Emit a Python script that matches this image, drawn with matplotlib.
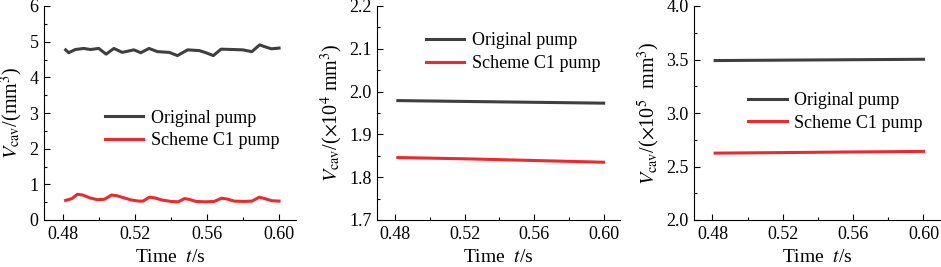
import matplotlib
matplotlib.use("Agg")
import matplotlib.pyplot as plt
from matplotlib.ticker import MultipleLocator, FormatStrFormatter

plt.rcParams['font.family'] = ['Liberation Serif', 'DejaVu Serif']
plt.rcParams['mathtext.fontset'] = 'stix'
plt.rcParams['font.size'] = 13

# panel 1 data (mm^3)
t_orig1 = [0.4815, 0.4832, 0.4869, 0.4915, 0.4953, 0.4999, 0.5040, 0.5083, 0.5129,
           0.5194, 0.5232, 0.5278, 0.5325, 0.5390, 0.5436, 0.5492, 0.5557, 0.5594,
           0.5635, 0.5678, 0.5743, 0.5799, 0.5849, 0.5892, 0.5920, 0.5957, 0.6000]
v_orig1 = [4.77, 4.69, 4.78, 4.81, 4.78, 4.81, 4.65, 4.81, 4.70,
           4.77, 4.69, 4.81, 4.72, 4.70, 4.61, 4.77, 4.75, 4.69,
           4.61, 4.79, 4.78, 4.77, 4.72, 4.91, 4.86, 4.80, 4.82]
t_c1_1 = [0.4815, 0.4850, 0.4880, 0.4910, 0.4950, 0.4990, 0.5030, 0.5070, 0.5100,
          0.5140, 0.5180, 0.5220, 0.5245, 0.5280, 0.5310, 0.5350, 0.5400, 0.5440,
          0.5475, 0.5500, 0.5540, 0.5590, 0.5640, 0.5680, 0.5710, 0.5750, 0.5800,
          0.5850, 0.5890, 0.5920, 0.5960, 0.6000]
v_c1_1 = [0.55, 0.60, 0.72, 0.70, 0.62, 0.57, 0.58, 0.70, 0.68,
          0.62, 0.56, 0.53, 0.53, 0.64, 0.62, 0.56, 0.52, 0.51,
          0.60, 0.58, 0.52, 0.51, 0.52, 0.61, 0.59, 0.53, 0.52,
          0.53, 0.64, 0.60, 0.54, 0.53]

# panel 2 data (x10^4 mm^3)
t2 = [0.4815, 0.52, 0.56, 0.60]
v_orig2 = [1.979, 1.977, 1.975, 1.973]
v_c1_2 = [1.846, 1.843, 1.839, 1.835]

# panel 3 data (x10^5 mm^3)
t3 = [0.4815, 0.52, 0.56, 0.60]
v_orig3 = [3.490, 3.494, 3.498, 3.502]
v_c1_3 = [2.625, 2.630, 2.636, 2.641]

black = '#3f3f3f'
red = '#ec2a2e'

fig = plt.figure(figsize=(9.41, 2.67), dpi=100)
W, H = 941, 267

def make_ax(l, r, top=6, bot=220):
    return fig.add_axes([l / W, (H - bot) / H, (r - l) / W, (bot - top) / H])

ax1 = make_ax(44, 296)
ax2 = make_ax(377, 620)
ax3 = make_ax(694, 940)

panels = [
    (ax1, t_orig1, v_orig1, t_c1_1, v_c1_1, (0, 6), 1, 0.5,
     r'$V_{\rm cav}$/(mm$^3$)', (0.212, 0.55)),
    (ax2, t2, v_orig2, t2, v_c1_2, (1.7, 2.2), 0.1, 0.05,
     r'$V_{\rm cav}$/($\times$10$^4$ mm$^3$)', (0.17, 0.91)),
    (ax3, t3, v_orig3, t3, v_c1_3, (2.0, 4.0), 0.5, 0.25,
     r'$V_{\rm cav}$/($\times$10$^5$  mm$^3$)', (0.19, 0.63)),
]

for ax, ta, va, tb, vb, ylim, maj, mnr, ylab, lpos in panels:
    ax.plot(ta, va, color=black, lw=2.2, label='Original pump')
    ax.plot(tb, vb, color=red, lw=2.2, label='Scheme C1 pump')
    ax.set_xlim(0.4695, 0.6094)
    ax.set_ylim(*ylim)
    ax.set_xticks([0.48, 0.52, 0.56, 0.60])
    ax.set_xticklabels(['0.48', '0.52', '0.56', '0.60'])
    ax.xaxis.set_minor_locator(MultipleLocator(0.02))
    ax.yaxis.set_major_locator(MultipleLocator(maj))
    ax.yaxis.set_minor_locator(MultipleLocator(mnr))
    if ax is not ax1:
        ax.yaxis.set_major_formatter(FormatStrFormatter('%.1f'))
    ax.tick_params(which='major', direction='in', length=4, width=0.8, pad=4)
    ax.tick_params(which='minor', direction='in', length=2.5, width=0.8)
    ax.spines['top'].set_visible(False)
    ax.spines['right'].set_visible(False)
    ax.set_xlabel(r'Time  $t$/s', fontsize=14, labelpad=5)
    ax.set_ylabel(ylab, fontsize=14.5, labelpad=3)
    ax.legend(loc='upper left', bbox_to_anchor=lpos, frameon=False,
              handlelength=2.15, handletextpad=0.4, labelspacing=0.3,
              borderaxespad=0, fontsize=13)

fig.savefig('out.png', dpi=100)
